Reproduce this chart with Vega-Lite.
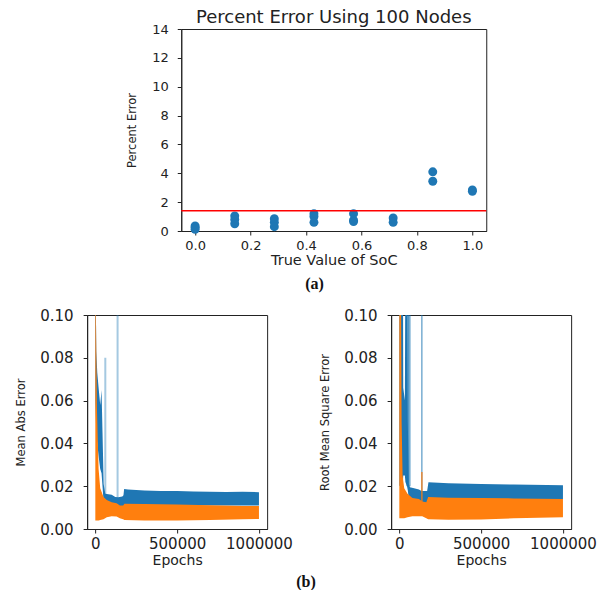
{
  "$schema": "https://vega.github.io/schema/vega-lite/v6.json",
  "padding": {"left": 15, "top": 8, "right": 0, "bottom": 0},
  "background": "white",
  "config": {
    "font": "DejaVu Sans",
    "view": {"stroke": "#222", "strokeWidth": 1},
    "axis": {"grid": false, "domainColor": "#222", "tickColor": "#222", "labelColor": "#222", "titleColor": "#222", "titleFontWeight": "normal", "labelFont": "DejaVu Sans", "titleFont": "DejaVu Sans", "tickSize": 4, "labelFlush": false, "labelOverlap": false},
    "title": {"font": "DejaVu Sans", "fontWeight": "normal", "color": "#222"}
  },
  "datasets": {
    "pct": [
      {"soc": 0.0, "err": 0.35}, {"soc": 0.0, "err": 0.25}, {"soc": 0.0, "err": 0.12},
      {"soc": 0.1429, "err": 1.05}, {"soc": 0.1429, "err": 0.8}, {"soc": 0.1429, "err": 0.5},
      {"soc": 0.2857, "err": 0.85}, {"soc": 0.2857, "err": 0.6}, {"soc": 0.2857, "err": 0.3},
      {"soc": 0.4286, "err": 1.2}, {"soc": 0.4286, "err": 1.0}, {"soc": 0.4286, "err": 0.6},
      {"soc": 0.5714, "err": 1.2}, {"soc": 0.5714, "err": 0.75}, {"soc": 0.5714, "err": 0.65},
      {"soc": 0.7143, "err": 0.9}, {"soc": 0.7143, "err": 0.6},
      {"soc": 0.8571, "err": 4.1}, {"soc": 0.8571, "err": 3.45},
      {"soc": 1.0, "err": 2.85}, {"soc": 1.0, "err": 2.75}
    ],
    "mean": [{"err": 1.4}],
    "mae": [
      {"series": "train", "epoch": 0, "lo": 0.06, "hi": 0.13},
      {"series": "train", "epoch": 6000, "lo": 0.044, "hi": 0.083},
      {"series": "train", "epoch": 12000, "lo": 0.04, "hi": 0.073},
      {"series": "train", "epoch": 20000, "lo": 0.034, "hi": 0.066},
      {"series": "train", "epoch": 30000, "lo": 0.028, "hi": 0.058},
      {"series": "train", "epoch": 38000, "lo": 0.026, "hi": 0.065},
      {"series": "train", "epoch": 44000, "lo": 0.02, "hi": 0.045},
      {"series": "train", "epoch": 51000, "lo": 0.012, "hi": 0.021},
      {"series": "train", "epoch": 61000, "lo": 0.011, "hi": 0.0165},
      {"series": "train", "epoch": 80000, "lo": 0.011, "hi": 0.0162},
      {"series": "train", "epoch": 100000, "lo": 0.01, "hi": 0.016},
      {"series": "train", "epoch": 122000, "lo": 0.009, "hi": 0.015},
      {"series": "train", "epoch": 140000, "lo": 0.009, "hi": 0.0148},
      {"series": "train", "epoch": 165000, "lo": 0.009, "hi": 0.0152},
      {"series": "train", "epoch": 172000, "lo": 0.01, "hi": 0.0158},
      {"series": "train", "epoch": 176000, "lo": 0.011, "hi": 0.0187},
      {"series": "train", "epoch": 200000, "lo": 0.011, "hi": 0.0185},
      {"series": "train", "epoch": 300000, "lo": 0.011, "hi": 0.018},
      {"series": "train", "epoch": 400000, "lo": 0.011, "hi": 0.0178},
      {"series": "train", "epoch": 500000, "lo": 0.011, "hi": 0.0177},
      {"series": "train", "epoch": 600000, "lo": 0.011, "hi": 0.0175},
      {"series": "train", "epoch": 700000, "lo": 0.011, "hi": 0.0174},
      {"series": "train", "epoch": 800000, "lo": 0.011, "hi": 0.0173},
      {"series": "train", "epoch": 900000, "lo": 0.011, "hi": 0.0174},
      {"series": "train", "epoch": 1000000, "lo": 0.011, "hi": 0.0172},
      {"series": "validation", "epoch": 0, "lo": 0.004, "hi": 0.13},
      {"series": "validation", "epoch": 5000, "lo": 0.004, "hi": 0.09},
      {"series": "validation", "epoch": 10000, "lo": 0.004, "hi": 0.056},
      {"series": "validation", "epoch": 20000, "lo": 0.004, "hi": 0.028},
      {"series": "validation", "epoch": 30000, "lo": 0.0042, "hi": 0.019},
      {"series": "validation", "epoch": 50000, "lo": 0.0045, "hi": 0.015},
      {"series": "validation", "epoch": 70000, "lo": 0.0055, "hi": 0.0135},
      {"series": "validation", "epoch": 100000, "lo": 0.006, "hi": 0.0125},
      {"series": "validation", "epoch": 130000, "lo": 0.0058, "hi": 0.012},
      {"series": "validation", "epoch": 150000, "lo": 0.005, "hi": 0.011},
      {"series": "validation", "epoch": 170000, "lo": 0.0045, "hi": 0.011},
      {"series": "validation", "epoch": 178000, "lo": 0.0042, "hi": 0.0118},
      {"series": "validation", "epoch": 300000, "lo": 0.004, "hi": 0.0117},
      {"series": "validation", "epoch": 500000, "lo": 0.004, "hi": 0.0114},
      {"series": "validation", "epoch": 700000, "lo": 0.0042, "hi": 0.0111},
      {"series": "validation", "epoch": 900000, "lo": 0.0045, "hi": 0.0108},
      {"series": "validation", "epoch": 1000000, "lo": 0.0047, "hi": 0.0107}
    ],
    "mae_spikes": [
      {"series": "train", "epoch": 61000, "lo": 0.016, "hi": 0.08},
      {"series": "train", "epoch": 136000, "lo": 0.014, "hi": 0.13}
    ],
    "rmse": [
      {"series": "train", "epoch": 0, "lo": 0.02, "hi": 0.13},
      {"series": "train", "epoch": 22000, "lo": 0.022, "hi": 0.13},
      {"series": "train", "epoch": 24000, "lo": 0.025, "hi": 0.066},
      {"series": "train", "epoch": 34000, "lo": 0.025, "hi": 0.06},
      {"series": "train", "epoch": 37000, "lo": 0.022, "hi": 0.13},
      {"series": "train", "epoch": 47000, "lo": 0.02, "hi": 0.13},
      {"series": "train", "epoch": 52000, "lo": 0.018, "hi": 0.05},
      {"series": "train", "epoch": 58000, "lo": 0.014, "hi": 0.021},
      {"series": "train", "epoch": 65000, "lo": 0.013, "hi": 0.0195},
      {"series": "train", "epoch": 90000, "lo": 0.012, "hi": 0.019},
      {"series": "train", "epoch": 120000, "lo": 0.012, "hi": 0.0185},
      {"series": "train", "epoch": 135000, "lo": 0.012, "hi": 0.0178},
      {"series": "train", "epoch": 170000, "lo": 0.012, "hi": 0.0178},
      {"series": "train", "epoch": 178000, "lo": 0.014, "hi": 0.0218},
      {"series": "train", "epoch": 300000, "lo": 0.014, "hi": 0.0214},
      {"series": "train", "epoch": 500000, "lo": 0.014, "hi": 0.021},
      {"series": "train", "epoch": 700000, "lo": 0.014, "hi": 0.0208},
      {"series": "train", "epoch": 1000000, "lo": 0.014, "hi": 0.0205},
      {"series": "validation", "epoch": 0, "lo": 0.005, "hi": 0.13},
      {"series": "validation", "epoch": 9000, "lo": 0.005, "hi": 0.13},
      {"series": "validation", "epoch": 14000, "lo": 0.005, "hi": 0.05},
      {"series": "validation", "epoch": 20000, "lo": 0.005, "hi": 0.025},
      {"series": "validation", "epoch": 30000, "lo": 0.005, "hi": 0.019},
      {"series": "validation", "epoch": 50000, "lo": 0.0055, "hi": 0.0165},
      {"series": "validation", "epoch": 80000, "lo": 0.006, "hi": 0.0145},
      {"series": "validation", "epoch": 120000, "lo": 0.006, "hi": 0.014},
      {"series": "validation", "epoch": 140000, "lo": 0.006, "hi": 0.0128},
      {"series": "validation", "epoch": 165000, "lo": 0.005, "hi": 0.0125},
      {"series": "validation", "epoch": 176000, "lo": 0.0045, "hi": 0.015},
      {"series": "validation", "epoch": 300000, "lo": 0.0043, "hi": 0.0146},
      {"series": "validation", "epoch": 500000, "lo": 0.0044, "hi": 0.0145},
      {"series": "validation", "epoch": 700000, "lo": 0.005, "hi": 0.0143},
      {"series": "validation", "epoch": 1000000, "lo": 0.0055, "hi": 0.014}
    ],
    "rmse_light": [
      {"series": "train", "epoch": 50000, "lo": 0.02, "hi": 0.13},
      {"series": "train", "epoch": 54000, "lo": 0.02, "hi": 0.13},
      {"series": "train", "epoch": 58000, "lo": 0.02, "hi": 0.13},
      {"series": "train", "epoch": 62000, "lo": 0.02, "hi": 0.13}
    ],
    "rmse_spike_blue": [
      {"series": "train", "epoch": 138000, "lo": 0.017, "hi": 0.13}
    ],
    "rmse_spike_orange": [
      {"series": "validation", "epoch": 138000, "lo": 0.012, "hi": 0.0266}
    ]
  },
  "vconcat": [
    {
      "vconcat": [
        {
          "width": 305,
          "height": 202,
          "title": {"text": "Percent Error Using 100 Nodes", "fontSize": 18, "offset": -4, "anchor": "middle"},
          "layer": [
            {
              "data": {"name": "pct"},
              "mark": {"type": "point", "filled": true, "size": 80, "color": "#1f77b4", "opacity": 1},
              "encoding": {
                "x": {"field": "soc", "type": "quantitative", "scale": {"domain": [-0.05, 1.05], "nice": false, "zero": false},
                      "axis": {"values": [0, 0.2, 0.4, 0.6, 0.8, 1.0], "format": ".1f", "title": "True Value of SoC", "labelFontSize": 13, "labelPadding": 4, "titleFontSize": 14.5, "titlePadding": 1}},
                "y": {"field": "err", "type": "quantitative", "scale": {"domain": [0, 14], "nice": false},
                      "axis": {"orient": "left", "values": [0, 2, 4, 6, 8, 10, 12, 14], "format": "d", "title": "Percent Error", "labelOverlap": false, "labelFontSize": 13, "labelPadding": 9, "titleFontSize": 11.5, "titlePadding": 14}}
              }
            },
            {
              "data": {"name": "mean"},
              "mark": {"type": "rule", "color": "#ff0000", "strokeWidth": 1.5},
              "encoding": {
                "y": {"field": "err", "type": "quantitative",
                      "axis": {"orient": "right", "labels": false, "ticks": false, "domain": true, "domainOpacity": 0, "offset": 16, "title": null}}
              }
            }
          ],
          "resolve": {"axis": {"y": "independent"}}
        }
      ],
      "title": {"text": "(a)", "orient": "bottom", "anchor": "middle", "frame": "bounds", "font": "Liberation Serif", "fontSize": 16, "fontWeight": "bold", "color": "#111", "offset": 9}
    },
    {
      "hconcat": [
        {
          "width": 180,
          "height": 214,
          "encoding": {
            "x": {"field": "epoch", "type": "quantitative", "scale": {"domain": [-50000, 1050000], "nice": false, "zero": false},
                  "axis": {"values": [0, 500000, 1000000], "format": "d", "title": "Epochs", "labelFontSize": 15, "labelPadding": 3, "titleFontSize": 14, "titlePadding": 2}},
            "y": {"field": "lo", "type": "quantitative", "scale": {"domain": [0, 0.1], "nice": false},
                  "axis": {"values": [0, 0.02, 0.04, 0.06, 0.08, 0.1], "format": ".2f", "title": "Mean Abs Error", "labelFontSize": 15, "labelPadding": 10, "titleFontSize": 11.5, "titlePadding": 13}},
            "y2": {"field": "hi"}
          },
          "layer": [
            {
              "data": {"name": "mae"},
              "transform": [{"filter": "datum.series === 'train'"}],
              "mark": {"type": "area", "color": "#1f77b4", "clip": true}
            },
            {
              "data": {"name": "mae_spikes"},
              "mark": {"type": "rule", "color": "#1f77b4", "opacity": 0.4, "strokeWidth": 2, "clip": true}
            },
            {
              "data": {"name": "mae"},
              "transform": [{"filter": "datum.series === 'validation'"}],
              "mark": {"type": "area", "color": "#ff7f0e", "clip": true}
            }
          ]
        },
        {
          "width": 180,
          "height": 214,
          "encoding": {
            "x": {"field": "epoch", "type": "quantitative", "scale": {"domain": [-50000, 1050000], "nice": false, "zero": false},
                  "axis": {"values": [0, 500000, 1000000], "format": "d", "title": "Epochs", "labelFontSize": 15, "labelPadding": 3, "titleFontSize": 14, "titlePadding": 2}},
            "y": {"field": "lo", "type": "quantitative", "scale": {"domain": [0, 0.1], "nice": false},
                  "axis": {"values": [0, 0.02, 0.04, 0.06, 0.08, 0.1], "format": ".2f", "title": "Root Mean Square Error", "labelFontSize": 15, "labelPadding": 10, "titleFontSize": 11.5, "titlePadding": 13}},
            "y2": {"field": "hi"}
          },
          "layer": [
            {
              "data": {"name": "rmse"},
              "transform": [{"filter": "datum.series === 'train'"}],
              "mark": {"type": "area", "color": "#1f77b4", "clip": true}
            },
            {
              "data": {"name": "rmse_light"},
              "mark": {"type": "rule", "color": "#1f77b4", "opacity": 0.3, "strokeWidth": 3, "clip": true}
            },
            {
              "data": {"name": "rmse_spike_blue"},
              "mark": {"type": "rule", "color": "#1f77b4", "opacity": 0.9, "strokeWidth": 1, "clip": true}
            },
            {
              "data": {"name": "rmse"},
              "transform": [{"filter": "datum.series === 'validation'"}],
              "mark": {"type": "area", "color": "#ff7f0e", "clip": true}
            },
            {
              "data": {"name": "rmse_spike_orange"},
              "mark": {"type": "rule", "color": "#ff7f0e", "strokeWidth": 1.2, "clip": true}
            }
          ]
        }
      ],
      "spacing": 124,
      "bounds": "flush",
      "title": {"text": "(b)", "orient": "bottom", "anchor": "middle", "frame": "bounds", "font": "Liberation Serif", "fontSize": 16, "fontWeight": "bold", "color": "#111", "offset": 6}
    }
  ],
  "spacing": 15,
  "center": true
}
